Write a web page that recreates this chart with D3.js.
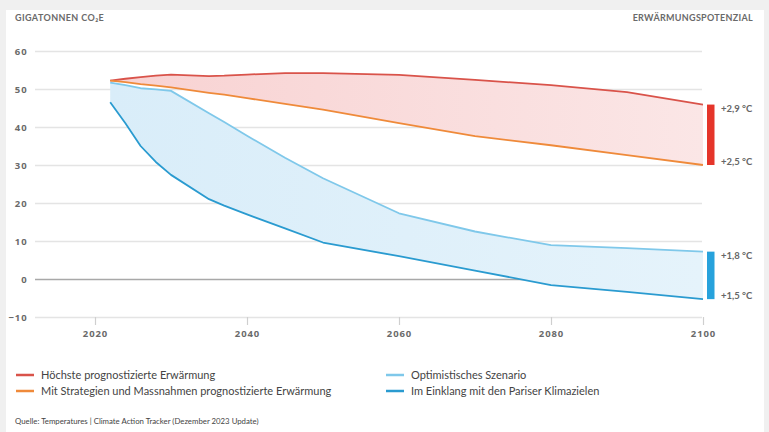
<!DOCTYPE html>
<meta charset="utf-8">
<script src="https://cdn.jsdelivr.net/npm/d3@7"></script>
<style>
  body { margin: 0; background: #f0f0f0; }
  svg { display: block; font-family: Lato, "Open Sans", sans-serif; }
  .axis text { font-family: "Open Sans", sans-serif; font-weight: 700; font-size: 9.5px; fill: #6a6a6a; letter-spacing: 0.9px; }
</style>
<div id="chart"></div>
<script>

// data (Gt CO2e)
var years      = [2022, 2024, 2026, 2028, 2030, 2035, 2037, 2040, 2045, 2050, 2060, 2070, 2080, 2090, 2100];
var highest    = [52.2, 52.7, 53.1, 53.5, 53.8, 53.4, 53.5, 53.8, 54.2, 54.2, 53.7, 52.4, 51.0, 49.2, 45.9];
var policies   = [52.2, 51.8, 51.3, 50.9, 50.4, 49.0, 48.5, 47.6, 46.1, 44.6, 41.0, 37.6, 35.2, 32.6, 30.0];
var optimistic = [51.7, 51.0, 50.2, 49.9, 49.5, 43.6, 41.3, 37.7, 31.9, 26.5, 17.3, 12.5, 8.9, 8.1, 7.2];
var paris      = [46.5, 41.0, 35.0, 30.8, 27.4, 21.0, 19.3, 17.0, 13.3, 9.6, 6.0, 2.2, -1.6, -3.4, -5.3];

var yTicks = [-10, 0, 10, 20, 30, 40, 50, 60];
var xTicks = [2020, 2040, 2060, 2080, 2100];
var tempLabels = ["+2,9 °C", "+2,5 °C", "+1,8 °C", "+1,5 °C"];
var legendLabels = ["Höchste prognostizierte Erwärmung",
                    "Mit Strategien und Massnahmen prognostizierte Erwärmung",
                    "Optimistisches Szenario",
                    "Im Einklang mit den Pariser Klimazielen"];
var colors = ["#d9534a", "#ef8a3a", "#7fc8ea", "#2a9bd0"];

var W = 769, H = 432;

var svg = d3.select("#chart").append("svg")
    .attr("width", W)
    .attr("height", H);

// white card
svg.append("rect")
    .attr("x", 6).attr("y", 10)
    .attr("width", 758).attr("height", H - 10)
    .attr("fill", "#fff");

var x = d3.scaleLinear().domain([2020, 2100]).range([95, 703]);
var y = d3.scaleLinear().domain([-10, 60]).range([317, 51]);
var left = 35, right = 702;

// gradients for the bands
var defs = svg.append("defs");
function grad(id, c0, c1) {
  var g = defs.append("linearGradient").attr("id", id)
      .attr("x1", "0%").attr("x2", "100%").attr("y1", "0%").attr("y2", "0%");
  g.append("stop").attr("offset", "0%").attr("stop-color", c0);
  g.append("stop").attr("offset", "100%").attr("stop-color", c1);
}
grad("redBand", "#f8d2d2", "#fbe6e6");
grad("blueBand", "#d9edf9", "#e5f3fb");

// y axis with gridlines
var yAxis = svg.append("g")
    .attr("class", "axis")
    .attr("transform", "translate(" + left + ",0)")
    .call(d3.axisLeft(y).tickValues(yTicks).tickSize(-(right - left)).tickPadding(7.5));
yAxis.select(".domain").remove();
yAxis.selectAll("line")
    .attr("stroke", function(d) { return d === 0 ? "#a8a8a8" : "#e4e4e4"; })
    .attr("stroke-width", 1.5);

// x axis
var xAxis = svg.append("g")
    .attr("class", "axis")
    .attr("transform", "translate(0," + y(-10) + ")")
    .call(d3.axisBottom(x).tickValues(xTicks).tickFormat(d3.format("d")).tickSize(8).tickPadding(5));
xAxis.select(".domain").remove();
xAxis.selectAll("line").attr("stroke", "#cfcfcf").attr("stroke-width", 1.2);

var rows = years.map(function(yr, i) {
  return {year: yr, h: highest[i], p: policies[i], o: optimistic[i], c: paris[i]};
});

// bands
svg.append("path")
    .datum(rows)
    .attr("fill", "url(#redBand)")
    .attr("d", d3.area().x(function(d) { return x(d.year); })
        .y0(function(d) { return y(d.p); }).y1(function(d) { return y(d.h); }));

svg.append("path")
    .datum(rows)
    .attr("fill", "url(#blueBand)")
    .attr("d", d3.area().x(function(d) { return x(d.year); })
        .y0(function(d) { return y(d.c); }).y1(function(d) { return y(d.o); }));

// lines
var series = [highest, policies, optimistic, paris];
var line = d3.line().x(function(d, i) { return x(years[i]); }).y(function(d) { return y(d); });
series.forEach(function(s, i) {
  svg.append("path")
      .datum(s)
      .attr("fill", "none")
      .attr("stroke", colors[i])
      .attr("stroke-width", 1.8)
      .attr("stroke-linejoin", "round")
      .attr("d", line);
});

// warming bars at the right
var last = years.length - 1;
var barX = 707, barW = 7.5;
svg.append("rect")
    .attr("x", barX).attr("y", y(highest[last]))
    .attr("width", barW).attr("height", y(policies[last]) - y(highest[last]))
    .attr("fill", "#e5352a");
svg.append("rect")
    .attr("x", barX).attr("y", y(optimistic[last]))
    .attr("width", barW).attr("height", y(paris[last]) - y(optimistic[last]))
    .attr("fill", "#27a2dc");

var ends = [highest[last], policies[last], optimistic[last], paris[last]];
svg.selectAll(".temp")
  .data(ends)
  .enter()
  .append("text")
    .attr("class", "temp")
    .attr("x", 721)
    .attr("y", function(d, i) { return y(d) + (i % 2 === 0 ? 7 : 0); })
    .attr("font-family", "Lato, sans-serif")
    .attr("font-weight", 700)
    .attr("font-size", "9.5px")
    .attr("fill", "#666")
    .text(function(d, i) { return tempLabels[i]; });

// headers
svg.append("text")
    .attr("x", 15).attr("y", 21)
    .attr("font-weight", 700).attr("font-size", "9px")
    .attr("fill", "#6a6a6a").attr("letter-spacing", "0.4px")
    .text("GIGATONNEN CO₂E");
svg.append("text")
    .attr("x", 753).attr("y", 21)
    .attr("text-anchor", "end")
    .attr("font-weight", 700).attr("font-size", "9px")
    .attr("fill", "#6a6a6a").attr("letter-spacing", "0.3px")
    .text("ERWÄRMUNGSPOTENZIAL");

// legend
var legendPos = [[16, 375], [16, 391], [386, 375], [386, 391]];
legendLabels.forEach(function(t, i) {
  var g = svg.append("g").attr("transform", "translate(" + legendPos[i][0] + "," + legendPos[i][1] + ")");
  g.append("line")
      .attr("x1", 0).attr("x2", 18)
      .attr("stroke", colors[i]).attr("stroke-width", 2.5);
  g.append("text")
      .attr("x", 25).attr("y", 4)
      .attr("font-size", "11px").attr("fill", "#444")
      .text(t);
});

svg.append("text")
    .attr("x", 15).attr("y", 424)
    .attr("font-size", "7.8px").attr("fill", "#444")
    .text("Quelle: Temperatures | Climate Action Tracker (Dezember 2023 Update)");

</script>
